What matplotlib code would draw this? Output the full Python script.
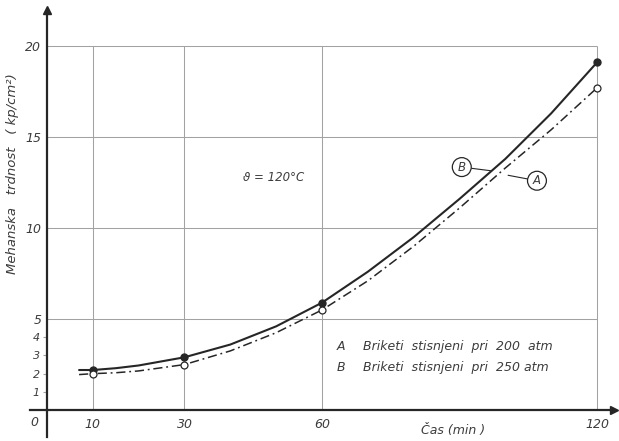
import numpy as np
import matplotlib.pyplot as plt

# readings from the scanned chart (time in minutes, strength in kp/cm2)
t_points = [10, 30, 60, 120]
b_points = [2.2, 2.9, 5.9, 19.1]   # briquettes pressed at 250 atm
a_points = [2.0, 2.5, 5.5, 17.7]   # briquettes pressed at 200 atm

# points
t_curve = [7, 10, 15, 20, 30, 40, 50, 60, 70, 80, 90, 100, 110, 120]
b_curve = [2.2, 2.2, 2.3, 2.45, 2.9, 3.6, 4.6, 5.9, 7.6, 9.5, 11.6, 13.8, 16.3, 19.1]
a_curve = [1.95, 2.0, 2.05, 2.15, 2.5, 3.25, 4.25, 5.5, 7.1, 9.0, 11.1, 13.3, 15.4, 17.7]

x_ticks = [10, 30, 60, 120]
y_major = [5, 10, 15, 20]
y_minor = [1, 2, 3, 4]

legend_lines = ["Briketi  stisnjeni  pri  200  atm", "Briketi  stisnjeni  pri  250 atm"]

INK = "#262626"
TXT = "#3c3c3c"
GRID = "#a2a2a2"
FONT = dict(family="DejaVu Sans", style="italic", color=TXT)

fig = plt.figure(figsize=(6.19, 4.41), dpi=100)
ax = fig.add_axes([0, 0, 1, 1])
ax.set_xlim(-10.25, 124.8)
ax.set_ylim(-1.70, 22.53)

# axes through the origin
for side in ("top", "right"):
    ax.spines[side].set_visible(False)
ax.spines["left"].set_position(("data", 0))
ax.spines["bottom"].set_position(("data", 0))
ax.spines["left"].set_bounds(-1.5, 21.8)
ax.spines["bottom"].set_bounds(-3.7, 123.5)
for side in ("left", "bottom"):
    ax.spines[side].set_linewidth(1.6)
    ax.spines[side].set_color(INK)
ax.plot(0, 22.0, marker="^", ms=6, color=INK, clip_on=False)
ax.plot(123.8, 0, marker=">", ms=6, color=INK, clip_on=False)

# grid
ax.vlines(x_ticks, 0, 20, colors=GRID, lw=0.75)
ax.hlines(y_major, 0, 120, colors=GRID, lw=0.75)

# ticks
ax.set_xticks(x_ticks)
ax.set_xticklabels([str(v) for v in x_ticks], fontsize=9, **FONT)
ax.tick_params(axis="x", length=0, pad=6)
ax.set_yticks(y_major)
ax.set_yticklabels([str(v) for v in y_major], fontsize=9, **FONT)
ax.set_yticks(y_minor, minor=True)
ax.set_yticklabels([str(v) for v in y_minor], minor=True, fontsize=8, **FONT)
ax.tick_params(axis="y", which="major", length=0, pad=4)
ax.tick_params(axis="y", which="minor", length=3, width=0.8, color=GRID, pad=2)
ax.text(-1.9, -0.7, "0", ha="right", va="center", fontsize=9, **FONT)

# curves
ax.plot(t_curve, b_curve, color=INK, lw=1.5, solid_capstyle="round")
ax.plot(t_curve, a_curve, color=INK, lw=1.1, dashes=(6, 2.5, 1.2, 2.5))
ax.plot(t_points, b_points, "o", ms=5, color=INK, zorder=5, clip_on=False)
ax.plot(t_points, a_points, "o", ms=5, mfc="white", mec=INK, mew=0.9, zorder=5, clip_on=False)

# labels
ax.text(-7.6, 13.0, "Mehanska   trdnost   ( kp/cm²)", rotation=90, ha="center",
        va="center", fontsize=9.5, **FONT)
ax.text(88.6, -1.15, "Čas (min )", ha="center", va="center", fontsize=9, **FONT)
ax.text(42.8, 12.8, "ϑ = 120°C", ha="left", va="center", fontsize=8.5, **FONT)

circ = dict(boxstyle="circle,pad=0.25", fc="white", ec=INK, lw=0.9)
ax.annotate("B", xy=(96.8, 13.15), xytext=(90.5, 13.35), ha="center", va="center",
            fontsize=8.5, bbox=circ, arrowprops=dict(arrowstyle="-", color=INK, lw=0.8,
            shrinkA=0, shrinkB=0), **FONT)
ax.annotate("A", xy=(100.6, 12.9), xytext=(106.9, 12.6), ha="center", va="center",
            fontsize=8.5, bbox=circ, arrowprops=dict(arrowstyle="-", color=INK, lw=0.8,
            shrinkA=0, shrinkB=0), **FONT)

# key inside the lower right cell
ax.text(63.3, 3.5, "A", ha="left", va="center", fontsize=9, **FONT)
ax.text(68.9, 3.5, legend_lines[0], ha="left", va="center", fontsize=9, **FONT)
ax.text(63.3, 2.35, "B", ha="left", va="center", fontsize=9, **FONT)
ax.text(68.9, 2.35, legend_lines[1], ha="left", va="center", fontsize=9, **FONT)

fig.savefig("out.png", dpi=100)
